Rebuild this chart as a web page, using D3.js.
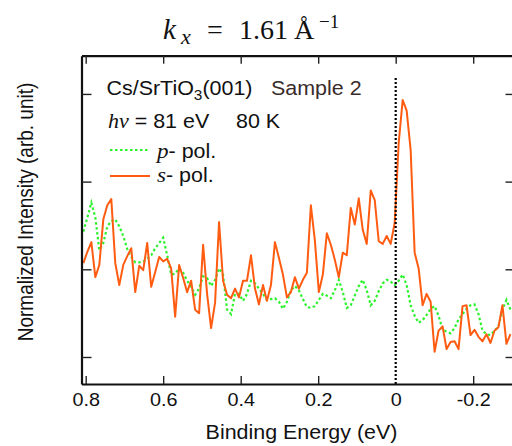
<!DOCTYPE html>
<html><head><meta charset="utf-8">
<script src="https://cdn.jsdelivr.net/npm/d3@7"></script>
<style>body{margin:0;background:#fff}svg{display:block}</style>
</head><body>
<svg id="c" width="512" height="446"></svg>
<script>
// Energy sampling grid (binding energy, eV)
const energyStart = 0.806;
const energyStep = 0.0103;
// s-polarisation intensity (normalized, arb. unit)
const sPol = [2.07,2.20,2.31,1.91,2.05,2.57,2.73,2.80,2.07,1.82,
  2.05,2.15,2.24,1.74,2.04,1.99,2.30,1.80,1.97,2.14,
  2.09,2.12,2.01,1.46,2.05,1.90,1.74,1.87,1.54,1.50,
  2.28,1.72,1.33,1.62,2.54,1.87,1.71,1.67,1.78,1.68,
  1.87,1.87,2.16,1.78,1.60,1.82,1.64,1.82,2.31,2.13,
  1.94,1.68,1.74,1.91,1.78,1.88,1.96,2.73,2.33,1.74,
  1.94,2.41,2.28,2.11,1.91,2.19,2.16,2.70,2.51,2.81,
  2.45,2.29,2.90,2.79,2.32,2.29,2.38,2.29,2.53,3.44,
  3.93,3.81,3.36,2.19,2.01,1.59,1.72,1.63,1.06,1.30,
  1.35,1.09,1.17,1.18,1.09,1.58,1.59,1.25,1.31,1.23,
  1.18,1.26,1.16,1.30,1.34,1.59,1.15,1.26];
// p-polarisation intensity (normalized, arb. unit)
const pPol = [2.43,2.59,2.76,2.59,2.22,2.30,2.49,2.55,2.57,2.49,
  2.38,2.23,2.14,2.08,2.08,2.09,2.12,2.16,2.24,2.30,
  2.36,2.16,1.94,1.95,2.01,1.96,1.87,1.80,1.71,1.78,
  1.92,1.90,1.81,1.88,2.01,1.94,1.54,1.49,1.72,1.72,
  1.64,1.72,1.87,1.84,1.78,1.72,1.65,1.66,1.67,1.63,
  1.55,1.63,1.76,1.81,1.76,1.66,1.57,1.56,1.58,1.65,
  1.72,1.70,1.67,1.76,1.88,1.74,1.56,1.59,1.70,1.81,
  1.88,1.76,1.59,1.64,1.75,1.84,1.88,1.86,1.82,1.87,
  1.94,1.82,1.59,1.47,1.39,1.42,1.48,1.55,1.58,1.47,
  1.31,1.29,1.27,1.33,1.43,1.49,1.55,1.59,1.60,1.49,
  1.30,1.26,1.25,1.30,1.35,1.54,1.65,1.54];
const xTicks = [0.8, 0.6, 0.4, 0.2, 0, -0.2];
const xTickLabels = ["0.8", "0.6", "0.4", "0.2", "0", "-0.2"];
const yTicks = [1, 2, 3, 4];
const fermiLevel = 0;

const svg = d3.select("#c");
const L = 81.5, R = 513.5, T = 55.7, B = 384;
const x = d3.scaleLinear().domain([0.8108, -0.304]).range([L, R]);
const y = d3.scaleLinear().domain([0.692, 4.436]).range([B, T]);
const energy = sPol.map((_, i) => energyStart - energyStep * i);
const GREEN = "#2cf22c", ORANGE = "#ff5c12";
const sans = "Liberation Sans, Arial, sans-serif";
const serif = "Liberation Serif, Times New Roman, serif";
const SX = 1.1; // horizontal stretch of lettering

svg.append("clipPath").attr("id", "clip").append("rect")
  .attr("x", L).attr("y", T).attr("width", R - L).attr("height", B - T);

const line = arr => d3.line().x((d, i) => x(energy[i])).y(d => y(d))(arr);

const g = svg.append("g").attr("clip-path", "url(#clip)");
g.append("path").attr("d", line(pPol)).attr("fill", "none")
  .attr("stroke", GREEN).attr("stroke-width", 2.2).attr("stroke-dasharray", "2.5,2.5");
g.append("path").attr("d", line(sPol)).attr("fill", "none")
  .attr("stroke", ORANGE).attr("stroke-width", 2).attr("stroke-linejoin", "round");
g.append("line").attr("x1", x(fermiLevel)).attr("x2", x(fermiLevel))
  .attr("y1", 78).attr("y2", B)
  .attr("stroke", "#000").attr("stroke-width", 2.2).attr("stroke-dasharray", "2,2");

function styleAxis(sel) {
  sel.select(".domain").attr("stroke", "#111").attr("stroke-width", 2.2);
  sel.selectAll(".tick line").attr("stroke", "#222").attr("stroke-width", 1.4);
}
const axB = svg.append("g").attr("transform", `translate(0,${B})`)
  .call(d3.axisBottom(x).tickValues(xTicks).tickFormat((d, i) => xTickLabels[i])
    .tickSize(-8).tickSizeOuter(0).tickPadding(9));
styleAxis(axB);
axB.selectAll(".tick").filter(d => d === 0).select("line").remove();
axB.selectAll(".tick text").attr("font-family", sans)
  .attr("font-size", 18).attr("fill", "#111").attr("transform", `scale(${SX},1)`);

const axT = svg.append("g").attr("transform", `translate(0,${T})`)
  .call(d3.axisTop(x).tickValues(xTicks).tickFormat("").tickSize(-8).tickSizeOuter(0));
styleAxis(axT);
const axL = svg.append("g").attr("transform", `translate(${L},0)`)
  .call(d3.axisLeft(y).tickValues(yTicks).tickFormat("").tickSize(-10).tickSizeOuter(0));
styleAxis(axL);
const axR = svg.append("g").attr("transform", `translate(${R},0)`)
  .call(d3.axisRight(y).tickValues(yTicks).tickFormat("").tickSize(-8).tickSizeOuter(0));
styleAxis(axR);

function label(px, py, size, fill) {
  return svg.append("text").attr("transform", `translate(${px},${py}) scale(${SX},1)`)
    .attr("font-family", sans).attr("font-size", size).attr("fill", fill || "#111");
}

// axis titles
label(301.5, 439, 19.5).attr("text-anchor", "middle").text("Binding Energy (eV)");
svg.append("text").attr("transform", `translate(33,212) scale(1.12,1) rotate(-90)`)
  .attr("text-anchor", "middle").attr("font-family", sans).attr("font-size", 19)
  .attr("fill", "#111").text("Normalized Intensity (arb. unit)");

// title
function tt(px, py, size, italic, s) {
  svg.append("text").attr("x", px).attr("y", py).attr("font-family", serif)
    .attr("font-size", size).attr("font-style", italic ? "italic" : "normal")
    .attr("fill", "#111").text(s);
}
tt(163, 39, 29, true, "k");
tt(181, 44, 22, true, "x");
tt(207, 39, 28, false, "=");
tt(239, 39, 28, false, "1.61");
tt(294, 39, 28, false, "Å");
tt(319, 28, 19, false, "−1");

// annotations
const t1 = label(106.5, 95, 19.5);
t1.append("tspan").text("Cs/SrTiO");
t1.append("tspan").attr("font-size", 14).attr("dy", 5).text("3");
t1.append("tspan").attr("dy", -5).text("(001)");
label(271, 95, 19.5, "#3a2b2b").text("Sample 2");

const t2 = label(108, 128, 19.5);
t2.append("tspan").attr("font-family", serif).attr("font-style", "italic").attr("font-size", 20).text("hν");
t2.append("tspan").text(" = 81 eV");
label(236, 128, 19.5).text("80 K");

// legend
svg.append("line").attr("x1", 110).attr("x2", 150).attr("y1", 150).attr("y2", 150)
  .attr("stroke", GREEN).attr("stroke-width", 2.2).attr("stroke-dasharray", "2.5,2.5");
svg.append("line").attr("x1", 110).attr("x2", 150).attr("y1", 176).attr("y2", 176)
  .attr("stroke", ORANGE).attr("stroke-width", 2);
const l1 = label(157, 158, 19.5);
l1.append("tspan").attr("font-family", serif).attr("font-style", "italic").attr("font-size", 21).text("p");
l1.append("tspan").text("- pol.");
const l2 = label(157, 182, 19.5);
l2.append("tspan").attr("font-family", serif).attr("font-style", "italic").attr("font-size", 21).text("s");
l2.append("tspan").text("- pol.");
</script>
</body></html>
